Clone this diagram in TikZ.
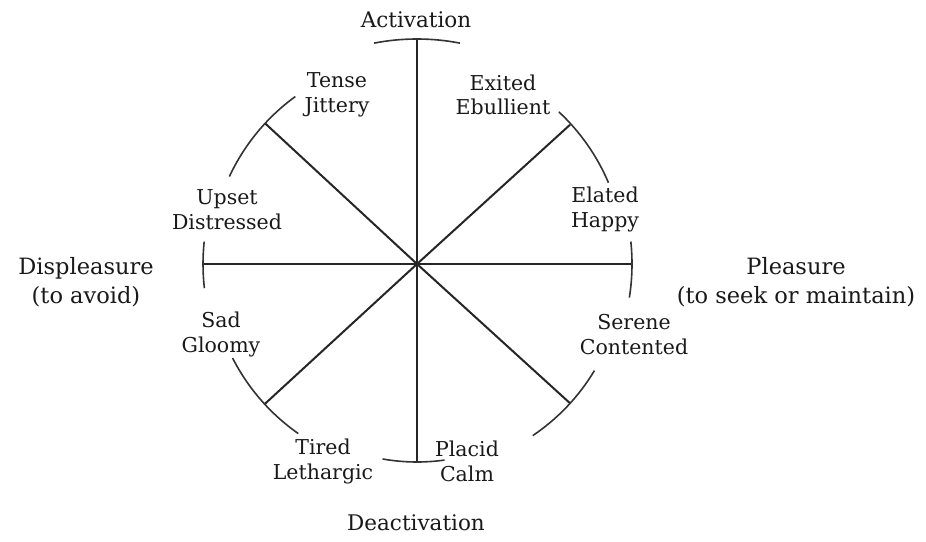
\documentclass[tikz,border=0pt]{standalone}
\usepackage{fontspec}
\setmainfont{DejaVu Serif}
\usetikzlibrary{calc}
\begin{document}
\begin{tikzpicture}[x=1pt,y=1pt,
  spoke/.style={line width=2pt, draw=black!85},
  rim/.style={line width=1.6pt, draw=black!80},
  lab/.style={align=center, font=\fontsize{20.5}{24.5}\selectfont, text=black!90, inner sep=0pt},
  axislab/.style={align=center, font=\fontsize{21.5}{29}\selectfont, text=black!90, inner sep=0pt},
  sidelab/.style={align=center, font=\fontsize{22.5}{29}\selectfont, text=black!90, inner sep=0pt}]
\useasboundingbox (0,0) rectangle (926,541);
\fill[white] (0,0) rectangle (926,541);
\coordinate (O) at (417,277);
\coordinate (T) at ($(O)+(90:225)$);
\coordinate (B) at ($(O)+(-90:198)$);
\coordinate (L) at ($(O)+(180:214)$);
\coordinate (R) at ($(O)+(0:215)$);
\coordinate (UL) at ($(O)+(137.2:207)$);
\coordinate (UR) at ($(O)+(42.3:207)$);
\coordinate (LL) at ($(O)+(-137.4:207)$);
\coordinate (LR) at ($(O)+(-42.3:207)$);
% spokes
\foreach \e in {T,B,L,R,UL,UR,LL,LR} \draw[spoke] (O) -- (\e);
% rim arcs
\draw[rim] ($(O)+(79:225)$) arc[start angle=79, end angle=101, radius=225];
\draw[rim] ($(O)+(23:208)$) arc[start angle=23, end angle=47, radius=208];
\draw[rim] ($(O)+(-9:215)$) arc[start angle=-9, end angle=6, radius=215];
\draw[rim] ($(O)+(-56:207)$) arc[start angle=-56, end angle=-31, radius=207];
\draw[rim] ($(O)+(-100:198)$) arc[start angle=-100, end angle=-82, radius=198];
\draw[rim] ($(O)+(-153:207)$) arc[start angle=-153, end angle=-125, radius=207];
\draw[rim] ($(O)+(174:214)$) arc[start angle=174, end angle=186.5, radius=214];
\draw[rim] ($(O)+(126:207)$) arc[start angle=126, end angle=155, radius=207];
% labels
\node[lab] (tense) at (337,446) {Tense\\Jittery};
\node[lab] (exited) at (503,446) {Exited\\Ebullient};
\node[lab] (elated) at (605,331.5) {Elated\\Happy};
\node[lab] (upset) at (227,331.5) {Upset\\Distressed};
\node[lab] (serene) at (634,206.5) {Serene\\Contented};
\node[lab] (sad) at (221,206.5) {Sad\\Gloomy};
\node[lab] (tired) at (323,79.5) {Tired\\Lethargic};
\node[lab] (placid) at (467,79.5) {Placid\\Calm};
\node[axislab] (act) at (416,521) {Activation};
\node[axislab] (deact) at (416,18) {Deactivation};
\node[sidelab] (displ) at (86,258.5) {Displeasure\\(to avoid)};
\node[sidelab] (pleas) at (796,258.5) {Pleasure\\(to seek or maintain)};
\end{tikzpicture}
\end{document}
